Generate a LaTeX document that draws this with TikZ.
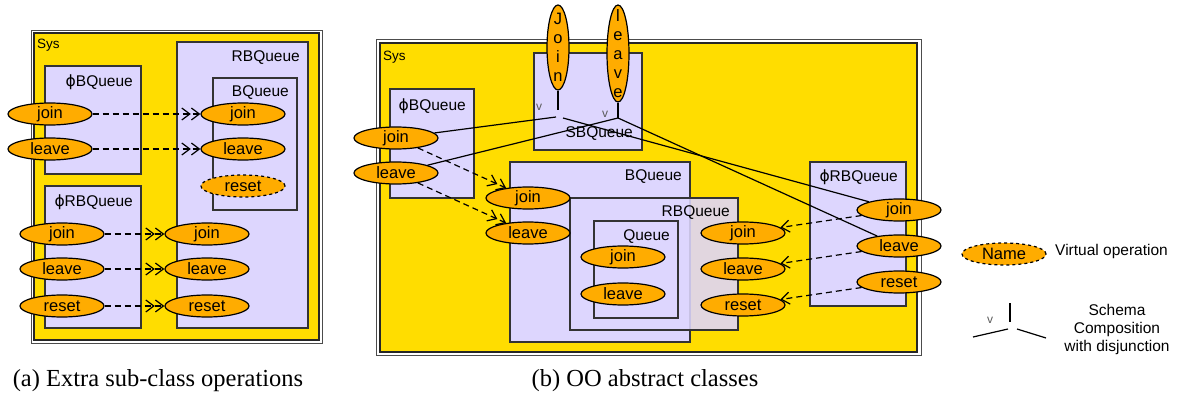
\documentclass[tikz,border=0pt]{standalone}
\usepackage{fontspec}
\setmainfont{Liberation Sans}
\newfontfamily\capfont{Liberation Serif}
\newfontfamily\phifont{DejaVu Sans}
\newcommand\phisym{{\phifont\char"03D5}}
\usetikzlibrary{arrows.meta,shapes.geometric}
\definecolor{sysyellow}{RGB}{255,221,0}
\definecolor{classlilac}{RGB}{221,214,254}
\definecolor{oporange}{RGB}{255,172,0}
\tikzset{
  sysframe/.style={draw=black!70, line width=0.9pt, fill=white},
  sysfill/.style={draw=black!85, line width=1.4pt, fill=sysyellow},
  syslbl/.style={anchor=west, inner sep=0pt, font=\fontsize{13.5}{16}\selectfont},
  classbox/.style={draw=black!80, line width=1.4pt, fill=classlilac},
  boxlbl/.style={anchor=east, inner sep=0pt, font=\fontsize{15.5}{18}\selectfont},
  opnode/.style={ellipse, draw=black, line width=1.2pt, fill=oporange, minimum width=84pt,
    minimum height=22pt, inner sep=0pt, font=\fontsize{16.5}{19}\selectfont},
  vop/.style={opnode, dashed},
  vtext/.style={align=center, inner sep=0pt, font=\fontsize{16.5}{19}\selectfont},
  orlbl/.style={inner sep=0pt, text=black!65, font=\fontsize{12}{14}\selectfont},
  compose/.style={line width=1.2pt},
  realize/.style={line width=1.2pt, dash pattern=on 6pt off 4pt,
    -{Straight Barb[length=8pt,width=12pt]Straight Barb[length=8pt,width=12pt]}},
  realize1/.style={line width=1.2pt, dash pattern=on 6pt off 4pt,
    -{Straight Barb[length=8pt,width=12pt]}},
  caplbl/.style={inner sep=0pt, font=\capfont\fontsize{24.5}{28}\selectfont}
}
\begin{document}
\begin{tikzpicture}[x=1pt, y=-1pt]
\useasboundingbox (0,0) rectangle (1177,395);
%%%%% (a) EXTRA SUB-CLASS OPERATIONS %%%%%
\draw[sysframe] (31,30) rectangle (322,343);
\draw[sysfill] (34,33) rectangle (319,340);
\node[syslbl] (a-sys) at (37,45) {Sys};

\draw[classbox] (45,66) rectangle (141,174);
\draw[classbox] (45,186) rectangle (141,328);
\draw[classbox] (177,42) rectangle (308,328);
\draw[classbox] (213,78) rectangle (297,210);
\node[boxlbl] (a-pbq-lbl) at (133,82) {\phisym BQueue};
\node[boxlbl] (a-prb-lbl) at (133,202) {\phisym RBQueue};
\node[boxlbl] (a-rbq-lbl) at (300,58) {RBQueue};
\node[boxlbl] (a-bq-lbl) at (289,93) {BQueue};

\node[opnode] (a-pbq-join) at (50,114) {join};
\node[opnode] (a-pbq-leave) at (50,149) {leave};
\node[opnode] (a-bq-join) at (243,114) {join};
\node[opnode] (a-bq-leave) at (243,149) {leave};
\node[vop] (a-bq-reset) at (243,186) {reset};
\node[opnode] (a-prb-join) at (62,234) {join};
\node[opnode] (a-prb-leave) at (62,269) {leave};
\node[opnode] (a-prb-reset) at (62,306) {reset};
\node[opnode] (a-rbq-join) at (207,234) {join};
\node[opnode] (a-rbq-leave) at (207,269) {leave};
\node[opnode] (a-rbq-reset) at (207,306) {reset};

\draw[realize] (a-pbq-join) -- (a-bq-join);
\draw[realize] (a-pbq-leave) -- (a-bq-leave);
\draw[realize] (a-prb-join) -- (a-rbq-join);
\draw[realize] (a-prb-leave) -- (a-rbq-leave);
\draw[realize] (a-prb-reset) -- (a-rbq-reset);

%%%%% (b) OO ABSTRACT CLASSES %%%%%
\draw[sysframe] (376,39) rectangle (921,355);
\draw[sysfill] (380,43) rectangle (917,352);
\node[syslbl] (b-sys) at (383,57) {Sys};

\draw[classbox] (534,53) rectangle (642,150);
\draw[classbox] (390,89) rectangle (474,198);
\draw[classbox] (510,162) rectangle (690,342);
\draw[classbox, fill opacity=0.88] (570,198) rectangle (738,330);
\draw[classbox] (594,221) rectangle (678,318);
\draw[classbox] (810,162) rectangle (906,306);
\node[boxlbl] (b-sbq-lbl) at (633,134) {SBQueue};
\node[boxlbl] (b-pbq-lbl) at (466,106) {\phisym BQueue};
\node[boxlbl] (b-bq-lbl) at (682,177) {BQueue};
\node[boxlbl] (b-rbq-lbl) at (730,213) {RBQueue};
\node[boxlbl] (b-q-lbl) at (670,237) {Queue};
\node[boxlbl] (b-prb-lbl) at (898,177) {\phisym RBQueue};

\node[opnode, minimum width=22pt, minimum height=85pt] (b-jn) at (558,47.5) {};
\node[vtext] (b-jn-txt) at (b-jn) {J\\o\\i\\n};
\node[opnode, minimum width=22pt, minimum height=97pt] (b-lv) at (618,53.5) {};
\node[vtext] (b-lv-txt) at (b-lv) {l\\e\\a\\v\\e};

\node[opnode] (b-pbq-join) at (396,138) {join};
\node[opnode] (b-pbq-leave) at (396,173) {leave};
\node[opnode] (b-bq-join) at (528,198) {join};
\node[opnode] (b-bq-leave) at (528,233) {leave};
\node[opnode] (b-q-join) at (623,257) {join};
\node[opnode] (b-q-leave) at (623,294) {leave};
\node[opnode] (b-rbq-join) at (743,233) {join};
\node[opnode] (b-rbq-leave) at (743,269) {leave};
\node[opnode] (b-rbq-reset) at (743,305) {reset};
\node[opnode] (b-prb-join) at (899,210) {join};
\node[opnode] (b-prb-leave) at (899,246) {leave};
\node[opnode] (b-prb-reset) at (899,282) {reset};

% schema composition, join and leave
\coordinate (jn-stub) at (558,110);
\coordinate (jn-l) at (556,117);
\coordinate (jn-r) at (563,118);
\coordinate (lv-hub) at (618,118);
\node[orlbl] (jn-or) at (539,107) {v};
\node[orlbl] (lv-or) at (605,114) {v};
\draw[compose] (b-jn.south) -- (jn-stub);
\draw[compose] (b-pbq-join) -- (jn-l);
\draw[compose] (jn-r) -- (b-prb-join);
\draw[compose] (b-lv.south) -- (lv-hub);
\draw[compose] (b-pbq-leave) -- (lv-hub);
\draw[compose] (lv-hub) -- (b-prb-leave);

\draw[realize] (b-pbq-join) -- (b-bq-join);
\draw[realize] (b-pbq-leave) -- (b-bq-leave);
\draw[realize1] (b-prb-join) -- (b-rbq-join);
\draw[realize1] (b-prb-leave) -- (b-rbq-leave);
\draw[realize1] (b-prb-reset) -- (b-rbq-reset);

%%%%% LEGEND %%%%%
\node[vop] (lg-name) at (1004,254) {Name};
\node[boxlbl, anchor=west] (lg-name-txt) at (1055,251) {Virtual operation};
\coordinate (lg-stub-t) at (1010,303);
\coordinate (lg-stub-b) at (1010,322);
\coordinate (lg-l-a) at (973,337);
\coordinate (lg-l-b) at (1008,329);
\coordinate (lg-r-a) at (1017,329);
\coordinate (lg-r-b) at (1046,338);
\draw[compose] (lg-stub-t) -- (lg-stub-b);
\draw[compose] (lg-l-a) -- (lg-l-b);
\draw[compose] (lg-r-a) -- (lg-r-b);
\node[orlbl] (lg-or) at (990,320) {v};
\node[boxlbl, anchor=center, align=center] (lg-schema) at (1117,329) {Schema\\Composition\\with disjunction};

%%%%% CAPTIONS %%%%%
\node[caplbl] (cap-a) at (158,381) {(a) Extra sub-class operations};
\node[caplbl] (cap-b) at (645,381) {(b) OO abstract classes};
\end{tikzpicture}
\end{document}
